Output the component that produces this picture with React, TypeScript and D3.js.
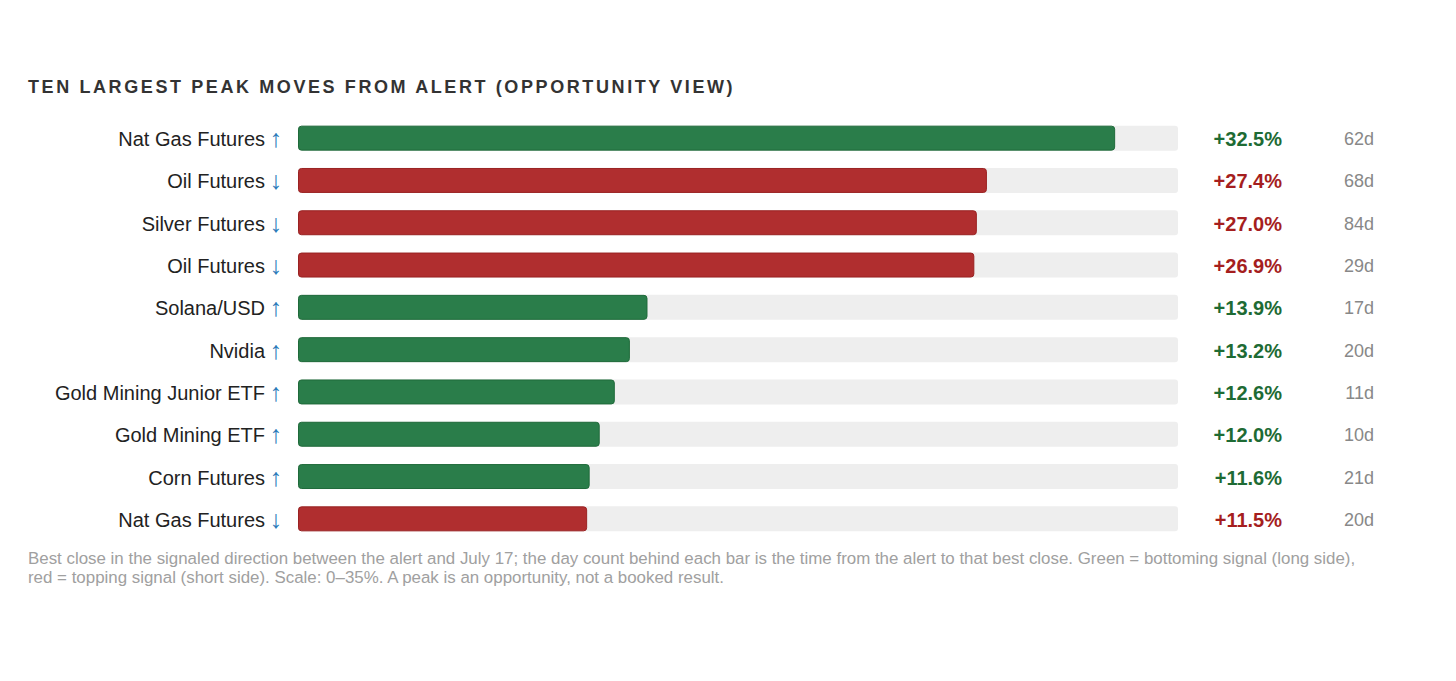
import React from "react";
import { scaleBand, scaleLinear } from "d3";

const labels = [
  "Nat Gas Futures",
  "Oil Futures",
  "Silver Futures",
  "Oil Futures",
  "Solana/USD",
  "Nvidia",
  "Gold Mining Junior ETF",
  "Gold Mining ETF",
  "Corn Futures",
  "Nat Gas Futures",
];
const directions = ["up", "down", "down", "down", "up", "up", "up", "up", "up", "down"];
const moves = [32.5, 27.4, 27.0, 26.9, 13.9, 13.2, 12.6, 12.0, 11.6, 11.5];
const days = [62, 68, 84, 29, 17, 20, 11, 10, 21, 20];

const title = "TEN LARGEST PEAK MOVES FROM ALERT (OPPORTUNITY VIEW)";
const noteLines = [
  "Best close in the signaled direction between the alert and July 17; the day count behind each bar is the time from the alert to that best close. Green = bottoming signal (long side),",
  "red = topping signal (short side). Scale: 0\u201335%. A peak is an opportunity, not a booked result.",
];

const W = 1456;
const H = 681;
const font = "'Liberation Sans', Arial, sans-serif";

export default function App() {
  const x = scaleLinear().domain([0, 35]).range([298, 1178]);
  const y = scaleBand<number>()
    .domain(labels.map((_, i) => i))
    .range([117, 540])
    .paddingInner(0.41)
    .paddingOuter(0.205);
  const bw = y.bandwidth();

  return (
    <svg
      width={W}
      height={H}
      style={{ position: "absolute", left: 0, top: 0, background: "#fff" }}
      fontFamily={font}
    >
      <text x={28} y={93} fontSize={18} fontWeight="bold" fill="#333" letterSpacing={2.6}>
        {title}
      </text>
      {labels.map((d, i) => {
        const up = directions[i] === "up";
        const cy = (y(i) ?? 0) + bw / 2;
        return (
          <g key={i}>
            <text x={265} y={cy + 8} fontSize={20} textAnchor="end" fill="#222">
              {d}
            </text>
            <text x={282} y={cy + 9} fontSize={25} textAnchor="end" fill="#2b7bb9">
              {up ? "\u2191" : "\u2193"}
            </text>
            <rect x={x(0)} y={y(i)} width={x(35) - x(0)} height={bw} rx={3} fill="#eeeeee" />
            <rect
              x={x(0) + 0.5}
              y={(y(i) ?? 0) + 0.5}
              width={x(moves[i]) - x(0) - 1}
              height={bw - 1}
              rx={3}
              fill={up ? "#2a7d4a" : "#b02e2f"}
              stroke={up ? "#1f6a3a" : "#9a2222"}
              strokeWidth={1}
            />
            <text
              x={1282}
              y={cy + 8}
              fontSize={20}
              fontWeight="bold"
              textAnchor="end"
              fill={up ? "#1e6b34" : "#a51e1e"}
            >
              {"+" + moves[i].toFixed(1) + "%"}
            </text>
            <text x={1374} y={cy + 7} fontSize={18} textAnchor="end" fill="#888">
              {days[i] + "d"}
            </text>
          </g>
        );
      })}
      {noteLines.map((t, i) => (
        <text key={i} x={28} y={564 + i * 19} fontSize={16.9} fill="#a0a0a0">
          {t}
        </text>
      ))}
    </svg>
  );
}
